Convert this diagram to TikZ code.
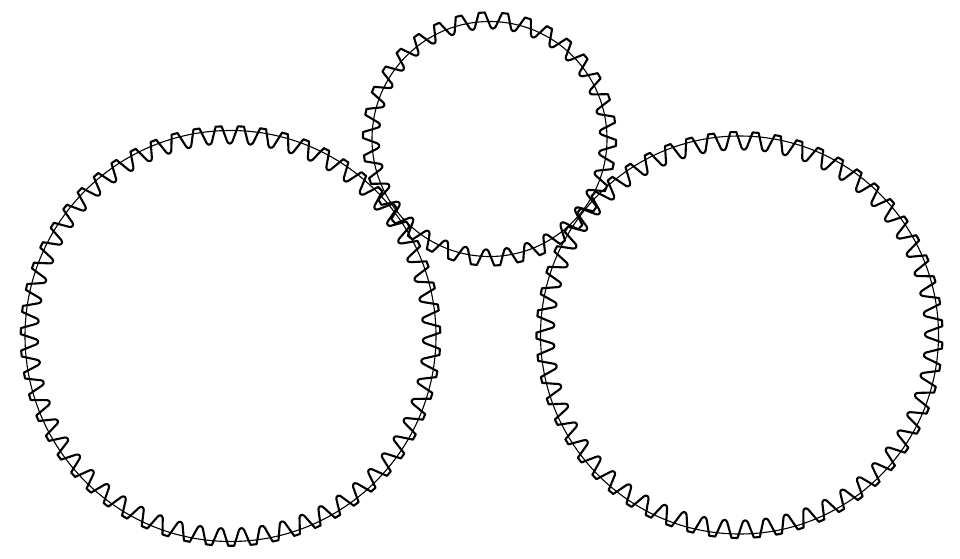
\documentclass[tikz,border=0pt]{standalone}
\tikzset{
  gearline/.style={line width=2.1pt,line join=round,black},
  pitchline/.style={line width=1.1pt,black}
}
% #1 cx, #2 cy (image px), #3 teeth, #4 phase, #5 tip r, #6 root r, #7 circle r
\newcommand{\gearwheel}[7]{%
  \begin{scope}[shift={(#1pt,558pt-#2pt)}]
    \draw[pitchline] (0,0) circle[radius=#7pt];
    \pgfmathsetmacro{\pp}{360/#3}
    \pgfmathsetmacro{\dt}{3.0/#5*57.2958}
    \pgfmathsetmacro{\dr}{2.6/#6*57.2958}
    \pgfmathsetmacro{\last}{int(#3-1)}
    \draw[gearline] ({#4-\dt}:#5pt)
      \foreach \i [evaluate=\i as \a using #4+\i*\pp] in {0,...,\last} {
        -- ({\a-\dt}:#5pt) -- ({\a+\dt}:#5pt)
        -- ({\a+\pp/2-\dr}:#6pt+1.5pt)
        .. controls ({\a+\pp/2-\dr*0.5}:#6pt-1.2pt) and ({\a+\pp/2+\dr*0.5}:#6pt-1.2pt)
        .. ({\a+\pp/2+\dr}:#6pt+1.5pt)
      } -- cycle;
  \end{scope}}
\begin{document}
\begin{tikzpicture}[x=1pt,y=1pt]
  \useasboundingbox (0,0) rectangle (960,558);
  \gearwheel{230.5}{336}{59}{-89.8}{209.8}{193}{205.5}
  \gearwheel{489.5}{139}{34}{93.5}{126.6}{111}{117.5}
  \gearwheel{739.5}{335}{57}{91.75}{203}{186}{199}
\end{tikzpicture}
\end{document}
